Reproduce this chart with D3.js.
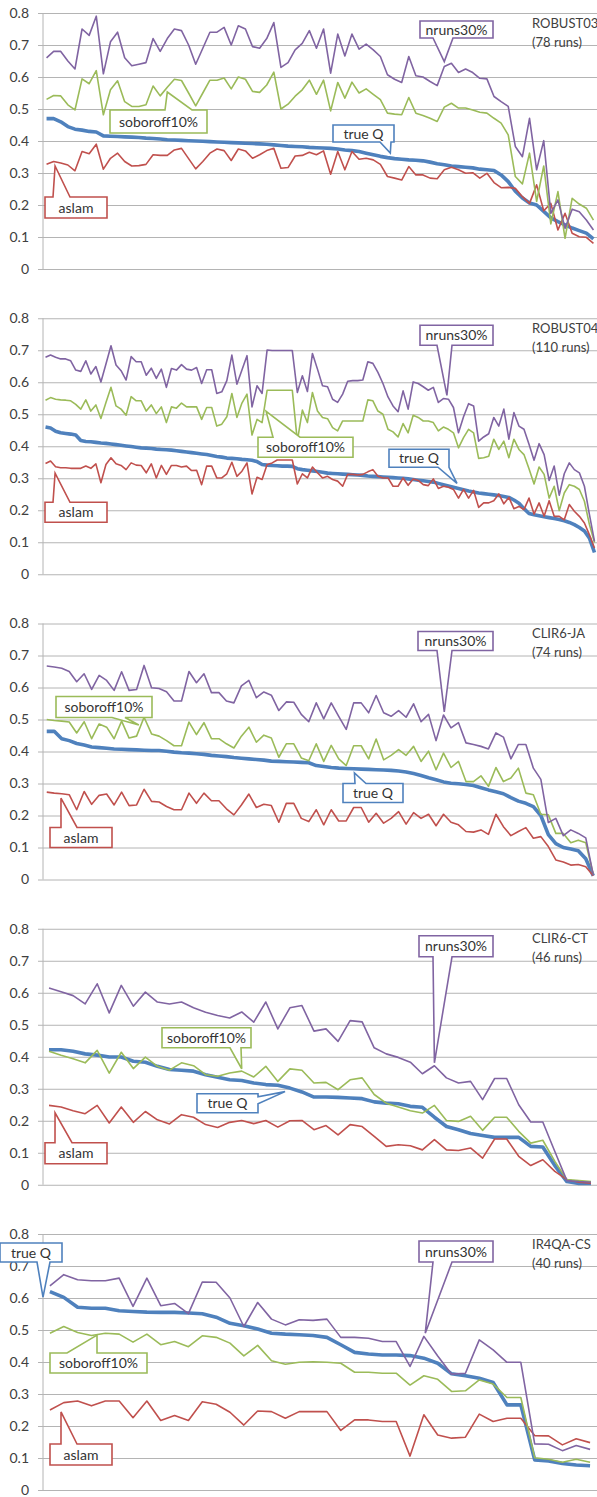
<!DOCTYPE html>
<html>
<head>
<meta charset="utf-8">
<script src="https://cdn.jsdelivr.net/npm/d3@7"></script>
<style>
  body { margin: 0; background: #fff; }
  svg { display: block; }
</style>
</head>
<body>
<div id="chart"></div>
<script>
// ---- data ----
const seriesNames = ["nruns30%", "soboroff10%", "true Q", "aslam"];
const panelNames = ["ROBUST03", "ROBUST04", "CLIR6-JA", "CLIR6-CT", "IR4QA-CS"];
const panelRuns = [78, 110, 74, 46, 40];
const yTicks = [0, 0.1, 0.2, 0.3, 0.4, 0.5, 0.6, 0.7, 0.8];

const robust03_nruns = [0.66, 0.68, 0.68, 0.65, 0.625, 0.75, 0.73, 0.79, 0.61, 0.71, 0.74, 0.66, 0.635, 0.64, 0.645, 0.72, 0.68, 0.72, 0.75, 0.745,
  0.70, 0.64, 0.69, 0.74, 0.74, 0.755, 0.70, 0.76, 0.75, 0.695, 0.69, 0.72, 0.77, 0.63, 0.645, 0.685, 0.705, 0.745, 0.69, 0.75,
  0.612, 0.734, 0.666, 0.734, 0.687, 0.703, 0.685, 0.664, 0.607, 0.593, 0.583, 0.664, 0.604, 0.60, 0.586, 0.573, 0.633, 0.643, 0.614, 0.625,
  0.614, 0.596, 0.594, 0.539, 0.523, 0.508, 0.383, 0.351, 0.471, 0.31, 0.401, 0.174, 0.216, 0.127, 0.187, 0.179, 0.153, 0.122];
const robust03_soboroff = [0.53, 0.542, 0.541, 0.513, 0.497, 0.594, 0.579, 0.62, 0.482, 0.56, 0.588, 0.523, 0.508, 0.508, 0.513, 0.572, 0.541, 0.568, 0.593, 0.589,
  0.55, 0.51, 0.55, 0.59, 0.59, 0.597, 0.563, 0.60, 0.593, 0.555, 0.552, 0.575, 0.615, 0.50, 0.515, 0.54, 0.56, 0.59, 0.546, 0.59,
  0.494, 0.583, 0.534, 0.584, 0.55, 0.563, 0.546, 0.529, 0.487, 0.484, 0.482, 0.536, 0.487, 0.48, 0.471, 0.461, 0.506, 0.518, 0.503, 0.503,
  0.497, 0.49, 0.487, 0.471, 0.456, 0.419, 0.289, 0.266, 0.362, 0.211, 0.322, 0.141, 0.242, 0.096, 0.221, 0.203, 0.19, 0.153];
const robust03_trueQ = [0.47, 0.47, 0.46, 0.445, 0.437, 0.434, 0.43, 0.428, 0.416, 0.415, 0.414, 0.413, 0.412, 0.411, 0.409, 0.408, 0.406, 0.404, 0.403, 0.402,
  0.401, 0.400, 0.399, 0.398, 0.397, 0.396, 0.395, 0.394, 0.393, 0.392, 0.391, 0.390, 0.388, 0.386, 0.384, 0.383, 0.382, 0.380, 0.379, 0.378,
  0.377, 0.375, 0.372, 0.370, 0.367, 0.362, 0.357, 0.352, 0.348, 0.345, 0.343, 0.341, 0.340, 0.338, 0.334, 0.329, 0.326, 0.322, 0.320, 0.318,
  0.316, 0.312, 0.310, 0.308, 0.294, 0.273, 0.243, 0.222, 0.206, 0.200, 0.180, 0.160, 0.148, 0.138, 0.128, 0.12, 0.112, 0.094];
const robust03_aslam = [0.327, 0.336, 0.331, 0.325, 0.307, 0.367, 0.36, 0.39, 0.312, 0.346, 0.362, 0.336, 0.322, 0.323, 0.327, 0.357, 0.355, 0.355, 0.372, 0.377,
  0.345, 0.313, 0.336, 0.362, 0.375, 0.37, 0.339, 0.375, 0.369, 0.346, 0.357, 0.37, 0.377, 0.315, 0.317, 0.353, 0.355, 0.365, 0.357, 0.369,
  0.296, 0.367, 0.31, 0.367, 0.343, 0.346, 0.341, 0.327, 0.289, 0.284, 0.278, 0.32, 0.294, 0.294, 0.284, 0.282, 0.31, 0.318, 0.31, 0.299,
  0.301, 0.284, 0.299, 0.27, 0.254, 0.255, 0.252, 0.226, 0.205, 0.263, 0.182, 0.205, 0.122, 0.174, 0.112, 0.101, 0.099, 0.08];

const robust04_nruns = [0.678, 0.685, 0.678, 0.673, 0.673, 0.667, 0.638, 0.634, 0.667, 0.626, 0.649, 0.601, 0.657, 0.714, 0.654, 0.636, 0.607, 0.68, 0.664, 0.664,
  0.622, 0.644, 0.612, 0.641, 0.584, 0.643, 0.638, 0.655, 0.641, 0.638, 0.646, 0.596, 0.639, 0.639, 0.565, 0.57, 0.605, 0.685, 0.594, 0.638,
  0.683, 0.523, 0.589, 0.565, 0.701, 0.699, 0.699, 0.699, 0.699, 0.699, 0.568, 0.62,
  0.571, 0.69, 0.641, 0.589, 0.586, 0.547, 0.537, 0.563, 0.603, 0.605, 0.605, 0.607, 0.664, 0.659, 0.631, 0.596, 0.554, 0.526, 0.508, 0.573,
  0.516, 0.601, 0.596, 0.586, 0.575, 0.584, 0.537, 0.549, 0.547, 0.521, 0.442, 0.492, 0.533, 0.526, 0.416, 0.429, 0.439, 0.49, 0.463, 0.516,
  0.422, 0.505, 0.463, 0.453, 0.406, 0.356, 0.408, 0.374, 0.293, 0.338, 0.247, 0.314, 0.348, 0.327, 0.317, 0.275, 0.186, 0.103];
const robust04_soboroff = [0.544, 0.552, 0.547, 0.545, 0.544, 0.542, 0.531, 0.516, 0.545, 0.51, 0.529, 0.487, 0.537, 0.584, 0.526, 0.516, 0.497, 0.555, 0.542, 0.542,
  0.51, 0.529, 0.502, 0.523, 0.474, 0.523, 0.519, 0.535, 0.523, 0.523, 0.523, 0.484, 0.521, 0.521, 0.463, 0.469, 0.492, 0.565, 0.49, 0.535,
  0.563, 0.435, 0.484, 0.474, 0.575, 0.575, 0.575, 0.575, 0.575, 0.575, 0.416, 0.513,
  0.474, 0.568, 0.51, 0.49, 0.486, 0.458, 0.448, 0.479, 0.479, 0.479, 0.479, 0.479, 0.545, 0.542, 0.51, 0.5, 0.453, 0.445, 0.429, 0.471,
  0.442, 0.497, 0.49, 0.479, 0.479, 0.474, 0.448, 0.46, 0.453, 0.442, 0.395, 0.427, 0.453, 0.442, 0.362, 0.364, 0.369, 0.422, 0.39, 0.416,
  0.364, 0.422, 0.39, 0.374, 0.33, 0.282, 0.335, 0.312, 0.238, 0.275, 0.199, 0.254, 0.28, 0.275, 0.265, 0.228, 0.155, 0.099];
const robust04_trueQ = [0.46, 0.457, 0.447, 0.442, 0.44, 0.438, 0.435, 0.418, 0.415, 0.414, 0.412, 0.41, 0.409, 0.407, 0.405, 0.403, 0.401, 0.399, 0.397, 0.395,
  0.394, 0.393, 0.391, 0.39, 0.389, 0.388, 0.386, 0.384, 0.382, 0.38, 0.378, 0.376, 0.374, 0.371, 0.368, 0.366, 0.363, 0.362, 0.361, 0.359,
  0.358, 0.356, 0.352, 0.343, 0.341, 0.34, 0.339, 0.338, 0.338, 0.337, 0.33, 0.327, 0.325, 0.323, 0.321, 0.319, 0.316, 0.315, 0.314, 0.313,
  0.312, 0.311, 0.31, 0.309, 0.307, 0.306, 0.305, 0.304, 0.303, 0.302, 0.301, 0.3, 0.298, 0.296, 0.294, 0.292, 0.29, 0.288, 0.284, 0.28,
  0.276, 0.272, 0.268, 0.264, 0.26, 0.257, 0.254, 0.252, 0.25, 0.248, 0.246, 0.243, 0.24, 0.232, 0.222, 0.205, 0.19, 0.186, 0.183, 0.18,
  0.177, 0.174, 0.171, 0.167, 0.162, 0.155, 0.146, 0.135, 0.113, 0.068];
const robust04_aslam = [0.346, 0.354, 0.336, 0.333, 0.333, 0.331, 0.331, 0.331, 0.338, 0.331, 0.345, 0.286, 0.343, 0.364, 0.345, 0.34, 0.327, 0.348, 0.341, 0.34,
  0.317, 0.345, 0.301, 0.34, 0.312, 0.34, 0.34, 0.335, 0.338, 0.324, 0.325, 0.28, 0.338, 0.338, 0.301, 0.301, 0.314, 0.35, 0.306, 0.322,
  0.348, 0.251, 0.303, 0.296, 0.343, 0.348, 0.357, 0.357, 0.357, 0.357, 0.282, 0.314,
  0.301, 0.335, 0.317, 0.301, 0.306, 0.296, 0.291, 0.275, 0.312, 0.312, 0.31, 0.312, 0.32, 0.327, 0.306, 0.301, 0.301, 0.275, 0.275, 0.301,
  0.278, 0.298, 0.293, 0.28, 0.277, 0.298, 0.268, 0.275, 0.272, 0.265, 0.238, 0.265, 0.238, 0.262, 0.209, 0.223, 0.223, 0.23, 0.251, 0.22,
  0.24, 0.205, 0.212, 0.202, 0.238, 0.188, 0.223, 0.181, 0.23, 0.181, 0.181, 0.17, 0.218, 0.197, 0.181, 0.16, 0.123, 0.082];

const clir6ja_nruns = [0.667, 0.664, 0.66, 0.65, 0.618, 0.643, 0.594, 0.638, 0.622, 0.591, 0.649, 0.591, 0.594, 0.669, 0.599, 0.597, 0.587, 0.558, 0.558, 0.65,
  0.615, 0.643, 0.584, 0.584, 0.558, 0.552, 0.605, 0.622, 0.568, 0.586, 0.576, 0.528, 0.555, 0.554,
  0.516, 0.493, 0.552, 0.502, 0.552, 0.51, 0.469, 0.552, 0.552, 0.521, 0.575, 0.521, 0.51, 0.528, 0.507, 0.549, 0.493, 0.516, 0.434, 0.514,
  0.474, 0.49, 0.427, 0.422, 0.416, 0.408, 0.458, 0.445, 0.377, 0.422, 0.422, 0.348, 0.313, 0.178, 0.191, 0.137, 0.155, 0.144, 0.13, 0.014];
const clir6ja_soboroff = [0.5, 0.497, 0.495, 0.492, 0.458, 0.493, 0.44, 0.486, 0.476, 0.44, 0.495, 0.442, 0.448, 0.507, 0.455, 0.448, 0.434, 0.418, 0.418, 0.492,
  0.453, 0.49, 0.44, 0.44, 0.424, 0.411, 0.448, 0.476, 0.429, 0.451, 0.442, 0.382, 0.424, 0.424,
  0.38, 0.371, 0.424, 0.369, 0.419, 0.377, 0.356, 0.418, 0.418, 0.377, 0.439, 0.374, 0.388, 0.406, 0.388, 0.416, 0.369, 0.401, 0.343, 0.395,
  0.35, 0.369, 0.306, 0.306, 0.324, 0.291, 0.35, 0.306, 0.317, 0.348, 0.27, 0.265, 0.204, 0.202, 0.144, 0.144, 0.115, 0.123, 0.115, 0.016];
const clir6ja_trueQ = [0.463, 0.463, 0.44, 0.434, 0.425, 0.42, 0.414, 0.412, 0.41, 0.408, 0.407, 0.406, 0.405, 0.404, 0.403, 0.403, 0.401, 0.398, 0.396, 0.395,
  0.393, 0.391, 0.388, 0.386, 0.384, 0.381, 0.379, 0.377, 0.375, 0.373, 0.37, 0.369, 0.368, 0.367, 0.366, 0.365, 0.356, 0.353, 0.35, 0.348,
  0.347, 0.346, 0.345, 0.344, 0.343, 0.342, 0.341, 0.339, 0.336, 0.331, 0.325, 0.318, 0.312, 0.305, 0.301, 0.299, 0.297, 0.294, 0.287, 0.28,
  0.274, 0.268, 0.256, 0.245, 0.238, 0.228, 0.2, 0.14, 0.112, 0.1, 0.095, 0.09, 0.065, 0.012];
const clir6ja_aslam = [0.273, 0.27, 0.268, 0.265, 0.218, 0.275, 0.235, 0.263, 0.267, 0.233, 0.273, 0.231, 0.233, 0.282, 0.244, 0.242, 0.228, 0.218, 0.218, 0.27,
  0.238, 0.27, 0.246, 0.246, 0.221, 0.202, 0.233, 0.267, 0.225, 0.235, 0.231, 0.179, 0.238, 0.238,
  0.191, 0.181, 0.218, 0.171, 0.218, 0.183, 0.183, 0.225, 0.225, 0.179, 0.207, 0.176, 0.191, 0.212, 0.173, 0.209, 0.191, 0.204, 0.168, 0.204,
  0.179, 0.171, 0.15, 0.148, 0.155, 0.141, 0.204, 0.165, 0.137, 0.15, 0.162, 0.129, 0.134, 0.103, 0.061, 0.055, 0.045, 0.047, 0.04, 0.012];

const clir6ct_nruns = [0.615, 0.603, 0.591, 0.565, 0.628, 0.537, 0.623, 0.558, 0.602, 0.571, 0.565, 0.571, 0.553, 0.539, 0.529, 0.521, 0.54, 0.508, 0.571, 0.487,
  0.553, 0.56, 0.48, 0.487, 0.448, 0.513, 0.509, 0.428, 0.409, 0.398, 0.383, 0.347, 0.372, 0.334, 0.318, 0.323, 0.266, 0.332, 0.332, 0.25,
  0.196, 0.196, 0.104, 0.013, 0.01, 0.008];
const clir6ct_soboroff = [0.417, 0.405, 0.394, 0.381, 0.42, 0.349, 0.414, 0.363, 0.399, 0.37, 0.358, 0.381, 0.372, 0.344, 0.339, 0.349, 0.355, 0.337, 0.37, 0.323,
  0.362, 0.358, 0.318, 0.32, 0.297, 0.328, 0.334, 0.282, 0.255, 0.243, 0.231, 0.224, 0.248, 0.201, 0.198, 0.214, 0.17, 0.211, 0.211, 0.167,
  0.13, 0.139, 0.073, 0.016, 0.013, 0.01];
const clir6ct_trueQ = [0.422, 0.422, 0.417, 0.409, 0.405, 0.399, 0.399, 0.386, 0.383, 0.37, 0.36, 0.358, 0.355, 0.344, 0.336, 0.328, 0.326, 0.318, 0.313, 0.311,
  0.302, 0.29, 0.274, 0.274, 0.273, 0.271, 0.269, 0.259, 0.255, 0.253, 0.245, 0.242, 0.211, 0.182, 0.172, 0.16, 0.154, 0.148, 0.148, 0.148,
  0.12, 0.118, 0.06, 0.01, 0.004, 0.004];
const clir6ct_aslam = [0.248, 0.243, 0.231, 0.222, 0.248, 0.193, 0.243, 0.195, 0.229, 0.203, 0.19, 0.219, 0.211, 0.188, 0.179, 0.195, 0.201, 0.191, 0.201, 0.18,
  0.2, 0.201, 0.172, 0.185, 0.156, 0.188, 0.182, 0.151, 0.12, 0.125, 0.122, 0.109, 0.141, 0.109, 0.107, 0.115, 0.083, 0.143, 0.143, 0.089,
  0.06, 0.078, 0.042, 0.016, 0.008, 0.005];

const ir4qacs_nruns = [0.638, 0.673, 0.657, 0.654, 0.654, 0.662, 0.574, 0.662, 0.576, 0.583, 0.551, 0.65, 0.649, 0.6, 0.511, 0.586, 0.534, 0.516, 0.532, 0.53,
  0.534, 0.477, 0.477, 0.474, 0.464, 0.464, 0.386, 0.48, 0.419, 0.362, 0.365, 0.469, 0.438, 0.399, 0.399, 0.144, 0.143, 0.123, 0.139, 0.127];
const ir4qacs_soboroff = [0.49, 0.511, 0.492, 0.483, 0.49, 0.487, 0.462, 0.487, 0.454, 0.464, 0.448, 0.482, 0.477, 0.459, 0.419, 0.452, 0.404, 0.393, 0.399, 0.401,
  0.399, 0.396, 0.368, 0.368, 0.365, 0.365, 0.328, 0.357, 0.346, 0.308, 0.31, 0.344, 0.331, 0.289, 0.289, 0.101, 0.096, 0.087, 0.096, 0.087];
const ir4qacs_trueQ = [0.62, 0.602, 0.571, 0.568, 0.568, 0.56, 0.558, 0.556, 0.555, 0.555, 0.553, 0.551, 0.54, 0.521, 0.513, 0.503, 0.49, 0.487, 0.485, 0.483,
  0.477, 0.454, 0.43, 0.425, 0.422, 0.422, 0.42, 0.412, 0.396, 0.363, 0.357, 0.349, 0.336, 0.266, 0.266, 0.094, 0.091, 0.083, 0.078, 0.076];
const ir4qacs_aslam = [0.25, 0.273, 0.278, 0.263, 0.278, 0.278, 0.226, 0.278, 0.217, 0.233, 0.217, 0.276, 0.268, 0.243, 0.203, 0.247, 0.245, 0.224, 0.245, 0.245,
  0.245, 0.186, 0.219, 0.219, 0.214, 0.214, 0.106, 0.235, 0.172, 0.162, 0.165, 0.237, 0.214, 0.224, 0.224, 0.17, 0.169, 0.141, 0.16, 0.148];

// ---- styling / layout ----
const colors = ["#8064a2", "#9bbb59", "#4f81bd", "#c0504d"];
const widths = [1.6, 1.6, 3.6, 1.6];
const drawOrder = [2, 3, 1, 0];
const FONT = "Lato, 'Open Sans', sans-serif";

const W = 597, H = 1497;
const plotLeft = 43, plotRight = 597, panelH = 256;

// callouts: box = [x, y relative to panel top, w, h]; tip = [run index, value]
const panels = [
  { series: [robust03_nruns, robust03_soboroff, robust03_trueQ, robust03_aslam],
    callouts: [
      { s: 0, box: [420, 8, 73, 17], side: "bottom", base: [433, 453], tip: [56, 0.648] },
      { s: 1, box: [110, 97, 97, 23], side: "top", base: [165, 192], tip: [17, 0.553] },
      { s: 2, box: [333, 112, 61, 17], side: "bottom", base: [380, 391], tip: [48.4, 0.3625] },
      { s: 3, box: [45, 184, 62, 21], side: "top", base: [53, 70], tip: [1.2, 0.322] }
    ] },
  { series: [robust04_nruns, robust04_soboroff, robust04_trueQ, robust04_aslam],
    callouts: [
      { s: 0, box: [420, 7, 73, 20], side: "bottom", base: [437, 452], tip: [79.7, 0.559] },
      { s: 1, box: [258, 119, 95, 20], side: "top", base: [273, 300], tip: [43.8, 0.509] },
      { s: 2, box: [389, 131, 60, 18], side: "bottom", base: [438, 449], tip: [81.7, 0.284] },
      { s: 3, box: [45, 184, 62, 20], side: "top", base: [53, 70], tip: [1.9, 0.316] }
    ] },
  { series: [clir6ja_nruns, clir6ja_soboroff, clir6ja_trueQ, clir6ja_aslam],
    callouts: [
      { s: 0, box: [418, 8, 75, 19], side: "bottom", base: [437, 452], tip: [53.1, 0.524] },
      { s: 1, box: [56, 73, 96, 21], side: "bottom", base: [112, 125], tip: [12.3, 0.483] },
      { s: 2, box: [343, 160, 60, 19], side: "top", base: [355, 366], tip: [41.1, 0.333] },
      { s: 3, box: [50, 204, 62, 20], side: "top", base: [61, 77], tip: [1.9, 0.254] }
    ] },
  { series: [clir6ct_nruns, clir6ct_soboroff, clir6ct_trueQ, clir6ct_aslam],
    callouts: [
      { s: 0, box: [419, 7, 74, 21], side: "bottom", base: [433, 452], tip: [32, 0.381] },
      { s: 1, box: [162, 99, 89, 20], side: "bottom", base: [230, 241], tip: [16, 0.3625] },
      { s: 2, box: [197, 165, 61, 19], side: "right", base: [168, 175], tip: [19.6, 0.291] },
      { s: 3, box: [45, 214, 62, 21], side: "top", base: [55, 72], tip: [0.5, 0.225] }
    ] },
  { series: [ir4qacs_nruns, ir4qacs_soboroff, ir4qacs_trueQ, ir4qacs_aslam],
    callouts: [
      { s: 0, box: [419, 7, 74, 21], side: "bottom", base: [433, 452], tip: [27.1, 0.49] },
      { s: 1, box: [50, 119, 97, 20], side: "top", base: [67, 97], tip: [3.4, 0.484] },
      { s: 2, box: [0, 9, 62, 19], side: "bottom", base: [37, 50], tip: [-0.5, 0.603] },
      { s: 3, box: [50, 210, 62, 21], side: "top", base: [61, 77], tip: [0.8, 0.244] }
    ] }
];

const svg = d3.select("#chart").append("svg")
  .attr("width", W)
  .attr("height", H)
  .style("font-family", FONT);

function calloutPath(c, top, tx, ty) {
  const [bx, byRel, bw, bh] = c.box;
  const by = top + byRel;
  const [b1, b2] = c.base;
  const p = d3.path();
  if (c.side === "top") {
    p.moveTo(bx, by); p.lineTo(b1, by); p.lineTo(tx, ty); p.lineTo(b2, by);
    p.lineTo(bx + bw, by); p.lineTo(bx + bw, by + bh); p.lineTo(bx, by + bh);
  } else if (c.side === "bottom") {
    p.moveTo(bx, by); p.lineTo(bx + bw, by); p.lineTo(bx + bw, by + bh);
    p.lineTo(b2, by + bh); p.lineTo(tx, ty); p.lineTo(b1, by + bh); p.lineTo(bx, by + bh);
  } else {
    p.moveTo(bx, by); p.lineTo(bx + bw, by); p.lineTo(bx + bw, top + b1);
    p.lineTo(tx, ty); p.lineTo(bx + bw, top + b2); p.lineTo(bx + bw, by + bh); p.lineTo(bx, by + bh);
  }
  p.closePath();
  return p.toString();
}

panels.forEach((panel, k) => {
  const top = 13 + k * 305.25;
  const n = panelRuns[k];
  const g = svg.append("g");

  const x = d3.scalePoint().domain(d3.range(n)).range([plotLeft, plotRight]).padding(0.5);
  const y = d3.scaleLinear().domain([0, 0.8]).range([top + panelH, top]);

  // gridlines + tick labels
  const axis = g.append("g")
    .attr("transform", `translate(38,0)`)
    .call(d3.axisLeft(y)
      .tickValues(yTicks)
      .tickSize(-(plotRight - 38))
      .tickPadding(9)
      .tickFormat(d => d === 0 ? "0" : d3.format(".1f")(d)));
  axis.select(".domain").remove();
  axis.selectAll(".tick line").attr("stroke", "#b4b4b4").attr("stroke-width", 1);
  axis.selectAll(".tick text")
    .attr("fill", "#404040")
    .style("font-size", "14px")
    .style("font-family", FONT);

  g.append("line")
    .attr("x1", plotLeft).attr("x2", plotLeft)
    .attr("y1", y(0.8)).attr("y2", y(0))
    .attr("stroke", "#b4b4b4");

  // series lines
  const line = d3.line().x((d, i) => x(i)).y(d => y(d));
  drawOrder.forEach(s => {
    g.append("path")
      .datum(panel.series[s])
      .attr("fill", "none")
      .attr("stroke", colors[s])
      .attr("stroke-width", widths[s])
      .attr("stroke-linejoin", "round")
      .attr("d", line);
  });

  // callouts
  panel.callouts.forEach(c => {
    const tx = x(0) + c.tip[0] * x.step();
    const ty = y(c.tip[1]);
    g.append("path")
      .attr("d", calloutPath(c, top, tx, ty))
      .attr("fill", "#fff")
      .attr("stroke", colors[c.s])
      .attr("stroke-width", 1.6)
      .attr("stroke-linejoin", "miter");
    g.append("text")
      .attr("x", c.box[0] + c.box[2] / 2)
      .attr("y", top + c.box[1] + c.box[3] / 2)
      .attr("dy", "0.36em")
      .attr("text-anchor", "middle")
      .attr("fill", "#333")
      .style("font-size", "14px")
      .text(seriesNames[c.s]);
  });

  // panel title
  const title = g.append("text")
    .attr("x", 532)
    .attr("fill", "#404040")
    .style("font-size", "13px");
  title.append("tspan").attr("x", 532).attr("y", top + 14.5).text(panelNames[k]);
  title.append("tspan").attr("x", 532).attr("y", top + 33.5).text(`(${panelRuns[k]} runs)`);
});
</script>
</body>
</html>
